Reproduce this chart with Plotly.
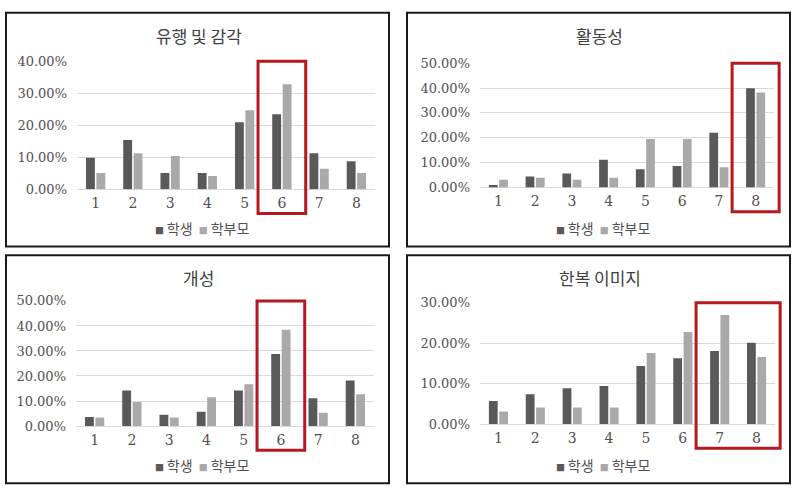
import plotly.graph_objects as go

# ---------------- data ----------------
categories = [1, 2, 3, 4, 5, 6, 7, 8]
series_names = ["학생", "학부모"]
titles = ["유행 및 감각", "활동성", "개성", "한복 이미지"]

student_trend = [0.099, 0.154, 0.051, 0.051, 0.210, 0.235, 0.113, 0.088]
parent_trend = [0.051, 0.113, 0.104, 0.042, 0.247, 0.328, 0.064, 0.051]

student_activity = [0.010, 0.044, 0.056, 0.111, 0.073, 0.086, 0.220, 0.399]
parent_activity = [0.031, 0.039, 0.031, 0.039, 0.195, 0.195, 0.081, 0.382]

student_personality = [0.036, 0.142, 0.045, 0.057, 0.142, 0.288, 0.111, 0.182]
parent_personality = [0.034, 0.096, 0.034, 0.115, 0.167, 0.385, 0.053, 0.127]

student_hanbok = [0.057, 0.074, 0.089, 0.094, 0.144, 0.163, 0.181, 0.201]
parent_hanbok = [0.031, 0.041, 0.041, 0.041, 0.176, 0.228, 0.270, 0.166]

y_max = [0.40, 0.50, 0.50, 0.30]
highlight = [[6], [8], [6], [7, 8]]

panels_student = [student_trend, student_activity, student_personality, student_hanbok]
panels_parent = [parent_trend, parent_activity, parent_personality, parent_hanbok]

# ---------------- layout geometry (pixels) ----------------
W, H = 800, 500
panel_boxes = [(6, 6, 389, 247), (407, 6, 790, 247), (6, 256, 389, 491), (407, 256, 790, 491)]
plot_rects = [(77, 56, 375, 188), (480, 58, 774, 186), (76, 303, 374, 432), (480, 305, 775, 430)]

DARK = "#595959"
LIGHT = "#a9a9a9"
GRID = "#d9d9d9"
TXT = "#505050"
RED = "#b3191e"
SERIF = "DejaVu Serif"
KR = "Noto Sans CJK KR"


def px(x):
    return x / W


def py(y):
    return 1 - y / H


fig = go.Figure()
shapes = []
annotations = []

for i in range(4):
    n = "" if i == 0 else str(i + 1)
    xa, ya = "x" + n, "y" + n
    fig.add_trace(go.Bar(x=categories, y=panels_student[i], name=series_names[0],
                         marker=dict(color=DARK, line=dict(width=0)),
                         xaxis=xa, yaxis=ya, showlegend=False))
    fig.add_trace(go.Bar(x=categories, y=panels_parent[i], name=series_names[1],
                         marker=dict(color=LIGHT, line=dict(width=0)),
                         xaxis=xa, yaxis=ya, showlegend=False))

    l, t, r, b = plot_rects[i]
    ncat = len(categories)
    fig.layout["xaxis" + n] = dict(
        domain=[px(l), px(r)], anchor=ya, range=[0.5, ncat + 0.5],
        tickmode="array", tickvals=categories, ticktext=[str(c) for c in categories],
        showgrid=False, zeroline=False, showline=False, ticks="",
        tickfont=dict(family=SERIF, size=14, color=TXT), ticklabelstandoff=4,
        fixedrange=True,
    )
    fig.layout["yaxis" + n] = dict(
        domain=[py(b), py(t)], anchor=xa, range=[0, y_max[i]],
        dtick=0.1, tick0=0, tickformat=".2%",
        showgrid=True, gridcolor=GRID, gridwidth=1,
        zeroline=True, zerolinecolor=GRID, zerolinewidth=1, showline=False, ticks="",
        tickfont=dict(family=SERIF, size=13, color=TXT), ticklabelstandoff=9,
        fixedrange=True,
    )

    # panel border
    bl, bt, br, bb = panel_boxes[i]
    shapes.append(dict(type="rect", xref="paper", yref="paper",
                       x0=px(bl), x1=px(br), y0=py(bb), y1=py(bt),
                       line=dict(color="#1a1a1a", width=2), fillcolor="rgba(0,0,0,0)", layer="above"))

    # highlight box around selected categories
    pad = 0.64
    lo, hi = min(highlight[i]) - pad, max(highlight[i]) + pad
    below_px = 25
    shapes.append(dict(type="rect", xref=xa + " domain", yref=ya + " domain",
                       x0=(lo - 0.5) / ncat, x1=(hi - 0.5) / ncat,
                       y0=-below_px / (b - t), y1=1.0,
                       line=dict(color=RED, width=3), fillcolor="rgba(0,0,0,0)", layer="above"))

    # title
    cx = (bl + br) / 2 + 1
    annotations.append(dict(text=titles[i], xref="paper", yref="paper",
                            x=px(cx), y=py(bt + 23), xanchor="center", yanchor="middle",
                            showarrow=False, font=dict(family=KR, size=17, color="#404040")))
    # legend
    leg = (f"<span style='color:{DARK};font-size:9px'>■</span>&#8201;{series_names[0]}&nbsp;&nbsp;"
           f"<span style='color:{LIGHT};font-size:9px'>■</span>&#8201;{series_names[1]}")
    annotations.append(dict(text=leg, xref="paper", yref="paper",
                            x=px(cx + 3), y=py(bb - 19), xanchor="center", yanchor="middle",
                            showarrow=False, font=dict(family=KR, size=14, color=TXT)))

fig.update_layout(
    width=W, height=H, margin=dict(l=0, r=0, t=0, b=0),
    paper_bgcolor="white", plot_bgcolor="white",
    barmode="group", bargap=0.44, bargroupgap=0.15,
    shapes=shapes, annotations=annotations, showlegend=False,
)

fig.write_html("out.html", config={"displayModeBar": False},
               post_script="document.body.style.margin='0';document.body.style.overflow='hidden';")
